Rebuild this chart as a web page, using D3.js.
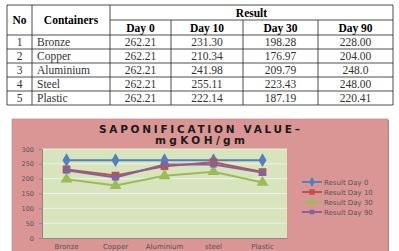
<!DOCTYPE html>
<html>
<head>
<meta charset="utf-8">
<script src="https://cdn.jsdelivr.net/npm/d3@7"></script>
<style>
  html, body { margin: 0; padding: 0; background: #fff; }
  svg { display: block; }
</style>
</head>
<body>
<div id="chart"></div>
<script>
const containers = ['Bronze', 'Copper', 'Aluminium', 'Steel', 'Plastic'];
const axisCategories = ['Bronze', 'Copper', 'Aluminium', 'steel', 'Plastic'];
const dayHeaders = ['Day 0', 'Day 10', 'Day 30', 'Day 90'];
const day0 = [262.21, 262.21, 262.21, 262.21, 262.21];
const day10 = [231.30, 210.34, 241.98, 255.11, 222.14];
const day30 = [198.28, 176.97, 209.79, 223.43, 187.19];
const day90 = [228.00, 204.00, 248.0, 248.00, 220.41];
const day90Text = ['228.00', '204.00', '248.0', '248.00', '220.41'];
const seriesNames = ['Result Day 0', 'Result Day 10', 'Result Day 30', 'Result Day 90'];
const yTicks = [0, 50, 100, 150, 200, 250, 300];

const W = 399, H = 251;
const svg = d3.select('#chart').append('svg')
  .attr('width', W)
  .attr('height', H);

// ---- table ----
const colEdges = [7, 32, 110, 171, 243, 318, 393];
const rowEdges = [5, 20, 35, 49, 63, 77, 91, 105];
const tbl = svg.append('g')
  .style('font-family', "'Liberation Serif', 'Times New Roman', serif")
  .style('font-size', '11.5px');

const hLine = (x1, x2, y) => tbl.append('line')
  .attr('x1', x1).attr('x2', x2).attr('y1', y).attr('y2', y)
  .attr('stroke', '#222').attr('stroke-width', 0.8);
const vLine = (x, y1, y2) => tbl.append('line')
  .attr('x1', x).attr('x2', x).attr('y1', y1).attr('y2', y2)
  .attr('stroke', '#222').attr('stroke-width', 0.8);

hLine(colEdges[0], colEdges[6], rowEdges[0]);
hLine(colEdges[2], colEdges[6], rowEdges[1]);
rowEdges.slice(2).forEach(y => hLine(colEdges[0], colEdges[6], y));
[0, 1, 2, 6].forEach(i => vLine(colEdges[i], rowEdges[0], rowEdges[7]));
[3, 4, 5].forEach(i => vLine(colEdges[i], rowEdges[1], rowEdges[7]));

const mid = (a, b) => (a + b) / 2;
tbl.append('text').attr('x', mid(colEdges[0], colEdges[1])).attr('y', mid(rowEdges[0], rowEdges[2]) + 4)
  .attr('text-anchor', 'middle').attr('font-weight', 'bold').text('No');
tbl.append('text').attr('x', mid(colEdges[1], colEdges[2])).attr('y', mid(rowEdges[0], rowEdges[2]) + 4)
  .attr('text-anchor', 'middle').attr('font-weight', 'bold').text('Containers');
tbl.append('text').attr('x', mid(colEdges[2], colEdges[6])).attr('y', mid(rowEdges[0], rowEdges[1]) + 4)
  .attr('text-anchor', 'middle').attr('font-weight', 'bold').text('Result');
dayHeaders.forEach((d, i) => {
  tbl.append('text').attr('x', mid(colEdges[i + 2], colEdges[i + 3])).attr('y', mid(rowEdges[1], rowEdges[2]) + 4)
    .attr('text-anchor', 'middle').attr('font-weight', 'bold').text(d);
});

containers.forEach((c, r) => {
  const y = mid(rowEdges[r + 2], rowEdges[r + 3]) + 4;
  const row = [day0[r].toFixed(2), day10[r].toFixed(2), day30[r].toFixed(2), day90Text[r]];
  tbl.append('text').attr('x', mid(colEdges[0], colEdges[1])).attr('y', y)
    .attr('text-anchor', 'middle').attr('fill', '#333').text(r + 1);
  tbl.append('text').attr('x', colEdges[1] + 5).attr('y', y)
    .attr('fill', '#333').text(c);
  row.forEach((v, i) => {
    tbl.append('text').attr('x', mid(colEdges[i + 2], colEdges[i + 3])).attr('y', y)
      .attr('text-anchor', 'middle').attr('fill', '#333').text(v);
  });
});

// ---- chart ----
const chartBox = { x: 12, y: 119, w: 376, h: 140 };
svg.append('rect')
  .attr('x', chartBox.x + 1).attr('y', chartBox.y + 1)
  .attr('width', chartBox.w).attr('height', chartBox.h)
  .attr('fill', '#9a8a8a');
svg.append('rect')
  .attr('x', chartBox.x).attr('y', chartBox.y)
  .attr('width', chartBox.w).attr('height', chartBox.h)
  .attr('fill', '#d99694')
  .attr('stroke', '#c58180').attr('stroke-width', 0.6);

const plot = { left: 42, top: 149, right: 287, bottom: 238 };

const xScale = d3.scaleBand()
  .domain(axisCategories)
  .range([plot.left, plot.right]);
const yScale = d3.scaleLinear()
  .domain([0, 300])
  .range([plot.bottom, plot.top]);

svg.append('rect')
  .attr('x', plot.left).attr('y', plot.top)
  .attr('width', plot.right - plot.left).attr('height', plot.bottom - plot.top)
  .attr('fill', '#d7e4bd');

svg.append('g')
  .selectAll('line')
  .data(yTicks.slice(1))
  .enter()
  .append('line')
  .attr('x1', plot.left).attr('x2', plot.right)
  .attr('y1', d => yScale(d)).attr('y2', d => yScale(d))
  .attr('stroke', '#f4f7ee').attr('stroke-width', 0.8);

const yAxis = d3.axisLeft(yScale).tickValues(yTicks).tickSize(3).tickPadding(5);
const gy = svg.append('g')
  .attr('transform', `translate(${plot.left},0)`)
  .call(yAxis);
gy.select('.domain').attr('stroke', '#888');
gy.selectAll('.tick line').attr('stroke', '#888');
gy.selectAll('text')
  .style('font-family', "'DejaVu Sans', Verdana, sans-serif")
  .style('font-size', '6.5px')
  .attr('fill', '#555');

const xAxis = d3.axisBottom(xScale).tickSize(0).tickPadding(6);
const gx = svg.append('g')
  .attr('transform', `translate(0,${plot.bottom})`)
  .call(xAxis);
gx.select('.domain').attr('stroke', '#888');
gx.selectAll('text')
  .style('font-family', "'DejaVu Sans', Verdana, sans-serif")
  .style('font-size', '7px')
  .attr('fill', '#555');

const colors = ['#4f81bd', '#c0504d', '#9bbb59', '#8064a2'];
const symbols = [d3.symbolDiamond, d3.symbolSquare, d3.symbolTriangle, d3.symbolSquare];
const symSizes = [55, 60, 60, 40];
const allSeries = [day0, day10, day30, day90];

const plotLine = d3.line()
  .x((d, i) => xScale(axisCategories[i]) + xScale.bandwidth() / 2)
  .y(d => yScale(d));

// draw in order so that purple sits on top of red
allSeries.forEach((vals, s) => {
  const g = svg.append('g');
  g.append('path')
    .datum(vals)
    .attr('d', plotLine)
    .attr('fill', 'none')
    .attr('stroke', colors[s])
    .attr('stroke-width', 2);
  g.selectAll('path.dot')
    .data(vals)
    .enter()
    .append('path')
    .attr('class', 'dot')
    .attr('d', d3.symbol().type(symbols[s]).size(symSizes[s]))
    .attr('transform', (d, i) => `translate(${xScale(axisCategories[i]) + xScale.bandwidth() / 2},${yScale(d)})`)
    .attr('fill', colors[s]);
});

// title
const title = svg.append('g')
  .style('font-family', "'DejaVu Sans', Verdana, sans-serif")
  .style('font-weight', 'bold')
  .style('font-size', '10.5px')
  .attr('fill', '#1a1a1a');
title.append('text')
  .attr('x', 99).attr('y', 133)
  .attr('textLength', 201).attr('lengthAdjust', 'spacing')
  .text('SAPONIFICATION VALUE–');
title.append('text')
  .attr('x', 155).attr('y', 143.5)
  .attr('textLength', 90).attr('lengthAdjust', 'spacing')
  .text('mgKOH/gm');

// legend
const legend = svg.append('g')
  .selectAll('g')
  .data(seriesNames)
  .enter()
  .append('g')
  .attr('transform', (d, i) => `translate(302,${182 + i * 10})`);
legend.append('line')
  .attr('x1', 0).attr('x2', 20)
  .attr('stroke', (d, i) => colors[i])
  .attr('stroke-width', 2);
legend.append('path')
  .attr('d', (d, i) => d3.symbol().type(symbols[i]).size(symSizes[i] * 0.5)())
  .attr('transform', 'translate(10,0)')
  .attr('fill', (d, i) => colors[i]);
legend.append('text')
  .attr('x', 22).attr('y', 2.5)
  .style('font-family', "'DejaVu Sans', Verdana, sans-serif")
  .style('font-size', '7px')
  .attr('fill', '#555')
  .text(d => d);
</script>
</body>
</html>
